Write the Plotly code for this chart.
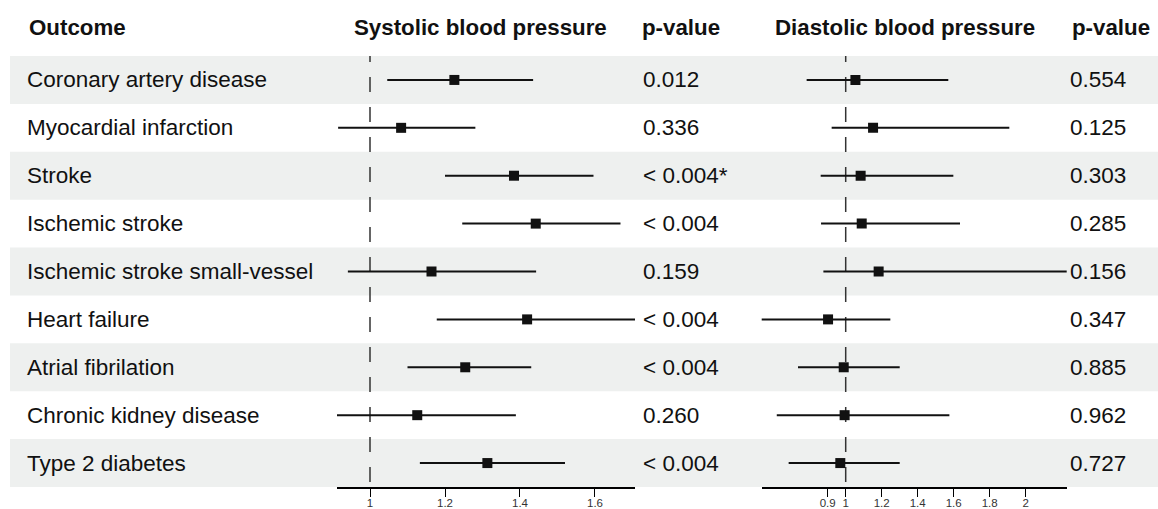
import plotly.graph_objects as go

# ---------------- data ----------------
outcomes = [
    "Coronary artery disease",
    "Myocardial infarction",
    "Stroke",
    "Ischemic stroke",
    "Ischemic stroke small-vessel",
    "Heart failure",
    "Atrial fibrilation",
    "Chronic kidney disease",
    "Type 2 diabetes",
]

sbp_or = [1.225, 1.083, 1.384, 1.442, 1.164, 1.419, 1.254, 1.126, 1.313]
sbp_lo = [1.046, 0.915, 1.200, 1.246, 0.941, 1.178, 1.100, 0.905, 1.133]
sbp_hi = [1.435, 1.281, 1.596, 1.668, 1.443, 1.730, 1.430, 1.389, 1.520]
sbp_p = ["0.012", "0.336", "< 0.004*", "< 0.004", "0.159", "< 0.004", "< 0.004", "0.260", "< 0.004"]

dbp_or = [1.054, 1.152, 1.083, 1.089, 1.183, 0.902, 0.989, 0.994, 0.970]
dbp_lo = [0.783, 0.922, 0.861, 0.863, 0.876, 0.520, 0.735, 0.617, 0.683]
dbp_hi = [1.570, 1.909, 1.598, 1.635, 2.250, 1.248, 1.300, 1.576, 1.300]
dbp_p = ["0.554", "0.125", "0.303", "0.285", "0.156", "0.347", "0.885", "0.962", "0.727"]

sbp_ticks = [1, 1.2, 1.4, 1.6]
sbp_ticktext = ["1", "1.2", "1.4", "1.6"]
dbp_ticks = [0.9, 1, 1.2, 1.4, 1.6, 1.8, 2]
dbp_ticktext = ["0.9", "1", "1.2", "1.4", "1.6", "1.8", "2"]

headers = ["Outcome", "Systolic blood pressure", "p-value", "Diastolic blood pressure", "p-value"]

# ---------------- layout helpers ----------------
W, H = 1158, 509
FONT = "Liberation Sans, Arial, Helvetica, sans-serif"
rows = list(range(1, len(outcomes) + 1))


def fx(p):
    return p / W


def fy(p):
    return 1 - p / H


fig = go.Figure()

ink = "#111111"
for xs, lo, hi, ax in [(sbp_or, sbp_lo, sbp_hi, "x"), (dbp_or, dbp_lo, dbp_hi, "x2")]:
    fig.add_trace(go.Scatter(
        x=xs, y=rows, xaxis=ax, yaxis="y", mode="markers",
        marker=dict(symbol="square", size=10, color=ink, line=dict(width=0)),
        error_x=dict(type="data", symmetric=False,
                     array=[h - o for h, o in zip(hi, xs)],
                     arrayminus=[o - l for o, l in zip(xs, lo)],
                     thickness=2, width=0, color=ink),
        showlegend=False, hoverinfo="skip",
    ))

axis_common = dict(
    anchor="y", showline=True, linecolor="#000", linewidth=1.5,
    ticks="outside", ticklen=8, tickwidth=1.2, tickcolor="#000",
    showgrid=False, zeroline=False, automargin=False,
    tickfont=dict(size=11.5, color="#333", family=FONT),
    ticklabelstandoff=-4,
    fixedrange=True,
)

fig.update_layout(
    width=W, height=H,
    margin=dict(l=0, r=0, t=0, b=0, autoexpand=False),
    paper_bgcolor="white", plot_bgcolor="rgba(0,0,0,0)",
    font=dict(family=FONT, color=ink),
    xaxis=dict(domain=[fx(337), fx(635)], range=[0.912, 1.7067],
               tickmode="array", tickvals=sbp_ticks, ticktext=sbp_ticktext, **axis_common),
    xaxis2=dict(domain=[fx(761.7), fx(1066.7)], range=[0.5333, 2.2278],
                tickmode="array", tickvals=dbp_ticks, ticktext=dbp_ticktext, **axis_common),
    yaxis=dict(domain=[fy(487), fy(56)], range=[len(outcomes) + 0.5, 0.5],
               visible=False, fixedrange=True, automargin=False),
)

shapes = []
for r in rows:
    if r % 2 == 1:
        shapes.append(dict(type="rect", xref="paper", yref="y",
                           x0=fx(10), x1=1, y0=r - 0.5, y1=r + 0.5,
                           fillcolor="#eef0ef", line=dict(width=0), layer="below"))
for ax in ["x", "x2"]:
    shapes.append(dict(type="line", xref=ax, yref="y", x0=1, x1=1,
                       y0=0.31, y1=len(outcomes) + 0.5,
                       line=dict(color="#333", width=1.5, dash="15px,15px"),
                       layer="below"))
fig.update_layout(shapes=shapes)

ann = []
for r, name, ps, pd in zip(rows, outcomes, sbp_p, dbp_p):
    for txt, px in [(name, 25), (ps, 641), (pd, 1068)]:
        ann.append(dict(text=txt, x=fx(px), y=r, xref="paper", yref="y",
                        xanchor="left", yanchor="middle", showarrow=False,
                        font=dict(size=22.5, color=ink, family=FONT)))

header_pos = [(27, "left"), (480.5, "center"), (640, "left"), (904.5, "center"), (1070, "left")]
for txt, (hx, anc) in zip(headers, header_pos):
    ann.append(dict(text="<b>" + txt + "</b>", x=fx(hx), y=fy(28), xref="paper", yref="paper",
                    xanchor=anc, yanchor="middle", showarrow=False,
                    font=dict(size=22.3, color=ink, family=FONT)))
fig.update_layout(annotations=ann)

fig.write_html("out.html", config={"displayModeBar": False},
               post_script="document.body.style.margin='0';document.body.style.overflow='hidden';")
